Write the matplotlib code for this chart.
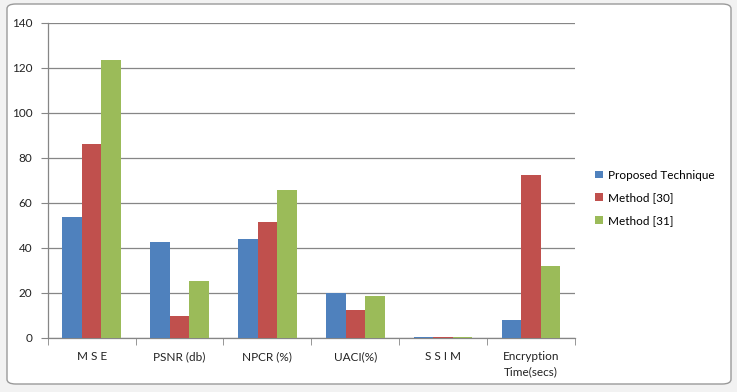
import matplotlib.pyplot as plt
import numpy as np
from matplotlib.patches import FancyBboxPatch
from matplotlib.ticker import FixedLocator

CATEGORIES = ["M S E", "PSNR (db)", "NPCR (%)", "UACI(%)", "S S I M", "Encryption\nTime(secs)"]
PROPOSED = [53.8, 42.6, 44.0, 19.8, 0.6, 8.0]
METHOD_30 = [86.1, 9.8, 51.5, 12.4, 0.5, 72.4]
METHOD_31 = [123.4, 25.3, 65.7, 18.6, 0.5, 32.0]
SERIES = ["Proposed Technique", "Method [30]", "Method [31]"]
COLORS = ["#4F81BD", "#C0504D", "#9BBB59"]

plt.rcParams["font.family"] = ["Lato", "DejaVu Sans"]

fig = plt.figure(figsize=(7.37, 3.92), dpi=100)
fig.patch.set_facecolor("#f2f2f2")

# chart frame, like the Excel chart area
W, H = 737, 392
frame = FancyBboxPatch(
    (7 / W, 8 / H), (731 - 7) / W, (388 - 8) / H,
    boxstyle="round,pad=0,rounding_size=0.012",
    transform=fig.transFigure, facecolor="white", edgecolor="#9a9a9a",
    linewidth=1.0, zorder=-10,
)
fig.patches.append(frame)

ax = fig.add_axes([47.7 / W, 1 - 338 / H, (575 - 47.7) / W, (338 - 22.7) / H])
ax.set_facecolor("none")

x = np.arange(len(CATEGORIES))
width = 0.222
for i, (vals, name, color) in enumerate(zip([PROPOSED, METHOD_30, METHOD_31], SERIES, COLORS)):
    ax.bar(x + (i - 1) * width, vals, width=width, color=color, label=name, zorder=3)

ax.set_xlim(-0.5, len(CATEGORIES) - 0.5)
ax.set_ylim(0, 140)
ax.set_yticks(range(0, 141, 20))
ax.set_xticks(x)
ax.set_xticklabels(CATEGORIES, fontsize=8.5, color="#222222", linespacing=1.5)
ax.xaxis.set_minor_locator(FixedLocator(np.arange(-0.5, len(CATEGORIES), 1.0)))
ax.tick_params(axis="x", which="major", length=0, pad=9.5)
ax.tick_params(axis="x", which="minor", length=5, direction="out", color="#868686")
ax.tick_params(axis="y", length=5, direction="out", color="#868686", labelsize=8.5,
               labelcolor="#222222", pad=6)

ax.grid(axis="y", color="#868686", linewidth=0.9, zorder=1)
for side in ["top", "right"]:
    ax.spines[side].set_visible(False)
for side in ["left", "bottom"]:
    ax.spines[side].set_color("#868686")
    ax.spines[side].set_linewidth(0.9)

ax.legend(
    loc="center left", bbox_to_anchor=(595 / W, 1 - 198 / H),
    bbox_transform=fig.transFigure, frameon=False, fontsize=8.5,
    handlelength=0.65, handleheight=0.65, handletextpad=0.45, labelspacing=1.0,
    borderaxespad=0, borderpad=0,
)

fig.savefig("out.png", dpi=100, facecolor=fig.get_facecolor())
